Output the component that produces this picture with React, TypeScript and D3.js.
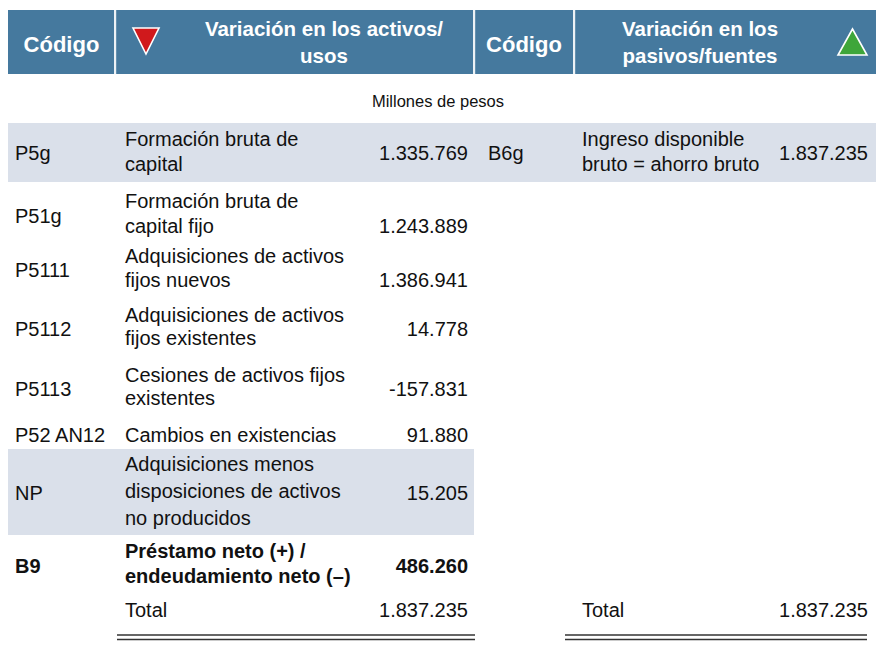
import React from "react";
import * as d3 from "d3";

// ---------- data ----------
const leftCodes = ["P5g", "P51g", "P5111", "P5112", "P5113", "P52 AN12", "NP", "B9"];
const leftLabels = [
  ["Formación bruta de", "capital"],
  ["Formación bruta de", "capital fijo"],
  ["Adquisiciones de activos", "fijos nuevos"],
  ["Adquisiciones de activos", "fijos existentes"],
  ["Cesiones de activos fijos", "existentes"],
  ["Cambios en existencias"],
  ["Adquisiciones menos", "disposiciones de activos", "no producidos"],
  ["Préstamo neto (+) /", "endeudamiento neto (–)"],
];
const leftValues = [1335769, 1243889, 1386941, 14778, -157831, 91880, 15205, 486260];
const leftTotal = 1837235;

const rightCodes = ["B6g"];
const rightLabels = [["Ingreso disponible", "bruto = ahorro bruto"]];
const rightValues = [1837235];
const rightTotal = 1837235;

const headerLeft = ["Variación en los activos/", "usos"];
const headerRight = ["Variación en los", "pasivos/fuentes"];
const codeHeader = "Código";
const unitsLabel = "Millones de pesos";
const totalLabel = "Total";

// ---------- layout (styles/positions) ----------
const W = 876;
const H = 651;
const HEADER_BG = "#45799e";
const SHADE = "#dae0ea";
const TEXT = "#111";
const BODY_FONT = "'Liberation Sans', Arial, sans-serif";
const HEAD_FONT = "'Liberation Sans', Arial, sans-serif";
const BODY_SIZE = 20;

// first-line baselines of each left row, per-row line spacing
const rowFirstBaseline = [146, 208, 263, 322, 382, 442, 471, 558];
const rowLine = [24.5, 25, 24, 23, 23, 24, 27, 25];
const numAlign = ["mid", "last", "last", "mid", "mid", "mid", "mid", "mid"];
const totalBaseline = 617;

const locale = d3.formatLocale({
  decimal: ",",
  thousands: ".",
  grouping: [3],
  currency: ["$", ""],
  minus: "-",
});
const fmt = locale.format(",d");

export default function App() {
  const x = {
    lCode: 15,
    lDesc: 125,
    lNum: 468,
    rCode: 488,
    rDesc: 582,
    rNum: 868,
  };
  const shadeRects: any[] = [
    { x0: 8, x1: W, y0: 123, y1: 182 },
    { x0: 8, x1: 474, y0: 449, y1: 535 },
  ];

  const midY = (i: number, n: number) =>
    rowFirstBaseline[i] + ((n - 1) * rowLine[i]) / 2 + (n > 1 ? 2 : 0);

  return (
    <svg
      width={W}
      height={H}
      style={{ position: "absolute", left: 0, top: 0, display: "block" }}
    >
      <rect x={0} y={0} width={W} height={H} fill="#fff" />
      {/* header */}
      <rect x={8} y={10} width={W - 8} height={64} fill={HEADER_BG} />
      {[115, 474, 574].map((dx) => (
        <rect key={dx} x={dx - 1} y={10} width={2.2} height={64} fill="#fff" opacity={0.9} />
      ))}
      <g fontFamily={HEAD_FONT} fontWeight="bold" fill="#fff">
        <text x={61.5} y={52} fontSize={22} textAnchor="middle">{codeHeader}</text>
        <text x={524} y={52} fontSize={22} textAnchor="middle">{codeHeader}</text>
        {headerLeft.map((t, i) => (
          <text key={t} x={324} y={36 + i * 27} fontSize={20.5} textAnchor="middle">{t}</text>
        ))}
        {headerRight.map((t, i) => (
          <text key={t} x={700} y={36 + i * 27} fontSize={20.5} textAnchor="middle">{t}</text>
        ))}
      </g>
      {/* triangles */}
      <path d="M133,28 L159,28 L146,54 Z" fill="#d0191c" stroke="#fff" strokeWidth={1.6} strokeLinejoin="miter" />
      <path d="M838,55 L867,55 L852.5,29 Z" fill="#3ea63a" stroke="#fff" strokeWidth={1.6} strokeLinejoin="miter" />

      {/* units */}
      <text x={438} y={107} fontSize={16.5} textAnchor="middle" fontFamily={HEAD_FONT} fill={TEXT}>
        {unitsLabel}
      </text>

      {/* shading */}
      {shadeRects.map((r, i) => (
        <rect key={i} x={r.x0} y={r.y0} width={r.x1 - r.x0} height={r.y1 - r.y0} fill={SHADE} />
      ))}

      {/* left body */}
      <g fontFamily={BODY_FONT} fontSize={BODY_SIZE} fill={TEXT}>
        {leftCodes.map((c, i) => {
          const n = leftLabels[i].length;
          const bold = c === "B9";
          const my = midY(i, n);
          const ny = numAlign[i] === "last" ? rowFirstBaseline[i] + (n - 1) * rowLine[i] : my;
          return (
            <g key={c} fontWeight={bold ? "bold" : "normal"}>
              <text x={x.lCode} y={my}>{c}</text>
              {leftLabels[i].map((t, j) => (
                <text key={j} x={x.lDesc} y={rowFirstBaseline[i] + j * rowLine[i]}>{t}</text>
              ))}
              <text x={x.lNum} y={ny} textAnchor="end">{fmt(leftValues[i])}</text>
            </g>
          );
        })}
        <text x={x.lDesc} y={totalBaseline}>{totalLabel}</text>
        <text x={x.lNum} y={totalBaseline} textAnchor="end">{fmt(leftTotal)}</text>

        {/* right body */}
        {rightCodes.map((c, i) => {
          const n = rightLabels[i].length;
          const my = midY(i, n);
          return (
            <g key={c}>
              <text x={x.rCode} y={my}>{c}</text>
              {rightLabels[i].map((t, j) => (
                <text key={j} x={x.rDesc} y={rowFirstBaseline[i] + j * rowLine[i]}>{t}</text>
              ))}
              <text x={x.rNum} y={my} textAnchor="end">{fmt(rightValues[i])}</text>
            </g>
          );
        })}
        <text x={x.rDesc} y={totalBaseline}>{totalLabel}</text>
        <text x={x.rNum} y={totalBaseline} textAnchor="end">{fmt(rightTotal)}</text>
      </g>

      {/* double rules */}
      {[635, 639.5].map((y) => (
        <g key={y}>
          <line x1={117} x2={475} y1={y} y2={y} stroke="#333" strokeWidth={1.3} />
          <line x1={565} x2={867} y1={y} y2={y} stroke="#333" strokeWidth={1.3} />
        </g>
      ))}
    </svg>
  );
}
